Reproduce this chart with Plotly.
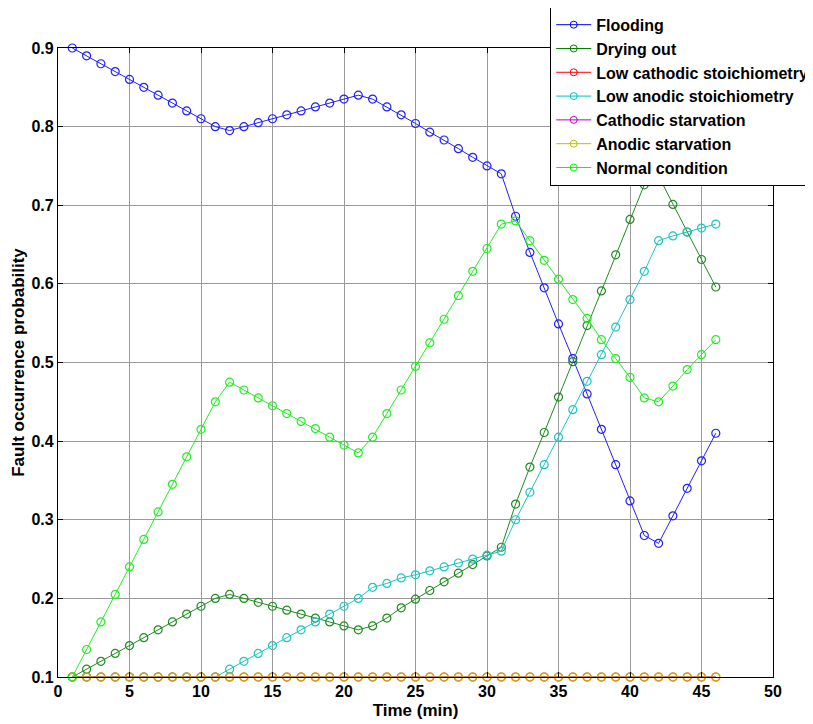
import plotly.graph_objects as go

time_min = list(range(1, 47))

flooding = [0.90, 0.89, 0.88, 0.87, 0.86, 0.85, 0.84, 0.83, 0.82, 0.81,
            0.80, 0.795, 0.80, 0.805, 0.81, 0.815, 0.82, 0.825, 0.83, 0.835,
            0.84, 0.835, 0.825, 0.815, 0.804, 0.793, 0.783, 0.772, 0.761, 0.75,
            0.74, 0.686, 0.64, 0.595, 0.549, 0.505, 0.46, 0.415, 0.37, 0.324,
            0.28, 0.27, 0.305, 0.34, 0.375, 0.41]
drying_out = [0.10, 0.11, 0.12, 0.13, 0.14, 0.15, 0.16, 0.17, 0.18, 0.19,
              0.20, 0.205, 0.20, 0.195, 0.19, 0.185, 0.18, 0.175, 0.17, 0.165,
              0.16, 0.165, 0.175, 0.188, 0.199, 0.21, 0.221, 0.232, 0.243, 0.254,
              0.265, 0.32, 0.367, 0.411, 0.456, 0.501, 0.547, 0.591, 0.637, 0.682,
              0.726, 0.737, 0.701, 0.666, 0.631, 0.596]
low_cathodic = [0.10] * 46
low_anodic = [0.10, 0.10, 0.10, 0.10, 0.10, 0.10, 0.10, 0.10, 0.10, 0.10,
              0.10, 0.11, 0.12, 0.13, 0.14, 0.15, 0.16, 0.17, 0.18, 0.19,
              0.20, 0.214, 0.219, 0.226, 0.23, 0.235, 0.24, 0.245, 0.25, 0.255,
              0.26, 0.30, 0.335, 0.37, 0.405, 0.44, 0.476, 0.51, 0.545, 0.58,
              0.616, 0.655, 0.661, 0.666, 0.671, 0.676]
cathodic_starvation = [0.10] * 46
anodic_starvation = [0.10] * 46
normal_condition = [0.10, 0.135, 0.17, 0.205, 0.24, 0.275, 0.31, 0.345, 0.38, 0.415,
                    0.45, 0.475, 0.465, 0.455, 0.445, 0.435, 0.425, 0.416, 0.405, 0.395,
                    0.385, 0.405, 0.435, 0.465, 0.495, 0.525, 0.555, 0.585, 0.616, 0.645,
                    0.676, 0.68, 0.655, 0.63, 0.606, 0.58, 0.556, 0.529, 0.505, 0.481,
                    0.455, 0.45, 0.47, 0.491, 0.51, 0.529]

series_names = ["Flooding", "Drying out", "Low cathodic stoichiometry",
                "Low anodic stoichiometry", "Cathodic starvation",
                "Anodic starvation", "Normal condition"]
series_values = [flooding, drying_out, low_cathodic, low_anodic,
                 cathodic_starvation, anodic_starvation, normal_condition]
legend_colors = ["#0000FF", "#008000", "#FF0000", "#00BFBF", "#BF00BF", "#BFBF00", "#00FF00"]
# the three overlapping constant series blend to an orange/brown in the reference
plot_line_colors = ["#2020FF", "#1E8C1E", "#B07850", "#20C4C4",
                    "#B07850", "#B07850", "#22EE22"]
plot_marker_colors = ["#2020FF", "#1E8C1E", "#D89A2A", "#20C4C4",
                      "#D89A2A", "#D89A2A", "#22EE22"]

x_ticks = [0, 5, 10, 15, 20, 25, 30, 35, 40, 45, 50]
y_ticks = [0.1, 0.2, 0.3, 0.4, 0.5, 0.6, 0.7, 0.8, 0.9]

FONT = "Liberation Sans, Arial, sans-serif"

fig = go.Figure()

# legend-only entries (full colours)
for name, col in zip(series_names, legend_colors):
    fig.add_trace(go.Scatter(
        x=[None], y=[None], name=name, mode="lines+markers",
        line=dict(color=col, width=1),
        marker=dict(symbol="circle-open", size=7, color=col, line=dict(width=1)),
        showlegend=True))

# data traces
for name, vals, lc, mc in zip(series_names, series_values, plot_line_colors, plot_marker_colors):
    fig.add_trace(go.Scatter(
        x=time_min, y=vals, name=name, mode="lines+markers",
        line=dict(color=lc, width=1),
        marker=dict(symbol="circle-open", size=8, color=mc, line=dict(width=1.2, color=mc)),
        showlegend=False, cliponaxis=False))

fig.update_layout(
    width=805, height=716,
    margin=dict(l=50, r=40, t=40, b=47, autoexpand=False),
    paper_bgcolor="white", plot_bgcolor="white",
    font=dict(family=FONT, color="black"),
    showlegend=True,
    legend=dict(
        x=0.688, y=1.066, xanchor="left", yanchor="top",
        bgcolor="white", bordercolor="black", borderwidth=1.3,
        font=dict(family=FONT, size=16, color="black", weight="bold"),
        tracegroupgap=0, itemwidth=35,
    ),
    xaxis=dict(
        range=[0, 50], tickvals=x_ticks, ticktext=[str(v) for v in x_ticks],
        showline=True, linecolor="black", linewidth=1.3, mirror="ticks",
        ticks="inside", ticklen=5, tickcolor="black",
        showgrid=True, gridcolor="#9a9a9a", gridwidth=1,
        zeroline=False, automargin=False,
        tickfont=dict(family=FONT, size=16, color="black", weight="bold"),
        title=dict(text="<b>Time (min)</b>", font=dict(size=17, family=FONT),
                   standoff=4),
    ),
    yaxis=dict(
        range=[0.1, 0.9], tickvals=y_ticks, ticktext=["%.1f" % v for v in y_ticks],
        showline=True, linecolor="black", linewidth=1.3, mirror="ticks",
        ticks="inside", ticklen=5, tickcolor="black",
        showgrid=True, gridcolor="#9a9a9a", gridwidth=1,
        zeroline=False, automargin=False,
        tickfont=dict(family=FONT, size=16, color="black", weight="bold"),
        title=dict(text="<b>Fault occurrence probability</b>", font=dict(size=17, family=FONT),
                   standoff=2),
    ),
)

fig.write_html("out.html")
